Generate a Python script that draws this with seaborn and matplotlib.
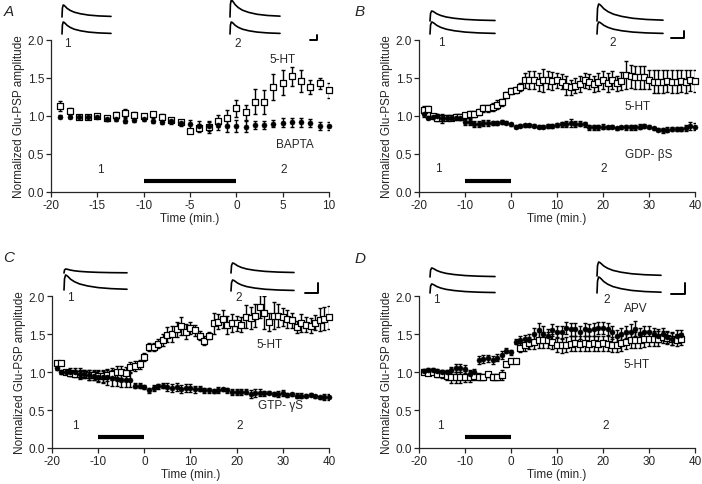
"""
Four-panel time course of normalized Glu-PSP amplitude (5-HT vs. blockers).
"""

import matplotlib

matplotlib.use("Agg")
import matplotlib.pyplot as plt
import seaborn as sns

sns.set_style("ticks")
plt.rcParams["font.family"] = ["Liberation Sans", "DejaVu Sans"]
plt.rcParams["font.size"] = 8.5
plt.rcParams["axes.unicode_minus"] = False

FIG_W, FIG_H = 702, 485

# ---- panel A data (one point per minute) ----
a_time = list(range(-19, 11))
a_sht_mean = [1.13, 1.06, 0.99, 0.99, 1.00, 0.97, 1.01, 1.04, 1.01, 1.00,
              1.02, 0.99, 0.95, 0.92, 0.80, 0.84, 0.85, 0.93, 0.98, 1.10,
              1.05, 1.19, 1.18, 1.38, 1.44, 1.52, 1.46, 1.38, 1.43, 1.34]
a_sht_sem = [0.07, 0.04, 0.02, 0.02, 0.02, 0.02, 0.04, 0.05, 0.04, 0.03,
             0.03, 0.03, 0.03, 0.03, 0.03, 0.05, 0.07, 0.08, 0.10, 0.11,
             0.10, 0.16, 0.16, 0.17, 0.17, 0.13, 0.14, 0.09, 0.07, 0.10]
a_bapta_mean = [0.99, 0.99, 0.99, 0.99, 0.99, 0.96, 0.96, 0.94, 0.95, 0.96,
                0.94, 0.92, 0.93, 0.91, 0.89, 0.87, 0.87, 0.88, 0.87, 0.87,
                0.86, 0.88, 0.88, 0.90, 0.91, 0.92, 0.92, 0.91, 0.87, 0.87]
a_bapta_sem = [0.02, 0.02, 0.02, 0.02, 0.02, 0.02, 0.03, 0.03, 0.03, 0.03,
               0.03, 0.03, 0.04, 0.04, 0.06, 0.06, 0.07, 0.07, 0.08, 0.08,
               0.07, 0.05, 0.05, 0.05, 0.06, 0.06, 0.06, 0.05, 0.05, 0.05]

# ---- panel B data ----
b_time = list(range(-19, 41))
b_sht_mean = [1.08, 1.09, 1.00, 0.98, 0.97, 0.98, 0.98, 0.99, 0.99, 1.01,
              1.02, 1.03, 1.05, 1.10, 1.10, 1.12, 1.15, 1.18, 1.28, 1.33,
              1.34, 1.38, 1.47, 1.47, 1.47, 1.45, 1.47, 1.47, 1.46, 1.47,
              1.45, 1.40, 1.38, 1.40, 1.42, 1.47, 1.45, 1.42, 1.45, 1.47,
              1.44, 1.47, 1.43, 1.46, 1.54, 1.52, 1.51, 1.51, 1.51, 1.48,
              1.45, 1.45, 1.45, 1.46, 1.45, 1.45, 1.46, 1.45, 1.47, 1.46]
b_sht_sem = [0.05, 0.04, 0.03, 0.04, 0.06, 0.03, 0.03, 0.03, 0.03, 0.03,
             0.04, 0.04, 0.04, 0.05, 0.05, 0.05, 0.06, 0.05, 0.04, 0.04,
             0.04, 0.05, 0.10, 0.12, 0.12, 0.12, 0.15, 0.12, 0.12, 0.10,
             0.10, 0.12, 0.10, 0.10, 0.10, 0.10, 0.10, 0.10, 0.12, 0.12,
             0.12, 0.12, 0.10, 0.12, 0.18, 0.15, 0.15, 0.15, 0.15, 0.12,
             0.15, 0.15, 0.15, 0.15, 0.15, 0.15, 0.15, 0.15, 0.14, 0.14]
b_gdp_mean = [1.02, 0.98, 0.99, 1.00, 0.97, 0.98, 0.98, 0.98, 0.97, 0.92,
              0.92, 0.89, 0.90, 0.91, 0.91, 0.91, 0.91, 0.92, 0.91, 0.89,
              0.86, 0.87, 0.88, 0.88, 0.87, 0.86, 0.86, 0.87, 0.87, 0.88,
              0.89, 0.90, 0.91, 0.90, 0.90, 0.89, 0.85, 0.85, 0.85, 0.86,
              0.85, 0.86, 0.84, 0.85, 0.85, 0.85, 0.85, 0.86, 0.87, 0.86,
              0.84, 0.82, 0.81, 0.82, 0.83, 0.83, 0.83, 0.84, 0.87, 0.86]
b_gdp_sem = [0.03, 0.02, 0.02, 0.03, 0.03, 0.02, 0.02, 0.02, 0.02, 0.04,
             0.04, 0.04, 0.04, 0.04, 0.04, 0.03, 0.03, 0.03, 0.02, 0.02,
             0.02, 0.02, 0.02, 0.02, 0.02, 0.02, 0.02, 0.03, 0.03, 0.03,
             0.03, 0.04, 0.05, 0.04, 0.03, 0.03, 0.03, 0.03, 0.03, 0.03,
             0.02, 0.02, 0.02, 0.02, 0.03, 0.03, 0.03, 0.03, 0.03, 0.02,
             0.02, 0.02, 0.03, 0.03, 0.03, 0.03, 0.03, 0.04, 0.05, 0.05]

# ---- panel C data ----
c_time = list(range(-19, 41))
c_sht_mean = [1.12, 1.12, 1.00, 0.99, 0.98, 0.97, 0.97, 0.96, 0.96, 0.95,
              0.95, 0.96, 0.97, 1.00, 1.00, 0.99, 1.06, 1.08, 1.10, 1.20,
              1.33, 1.33, 1.37, 1.42, 1.49, 1.50, 1.56, 1.61, 1.53, 1.58,
              1.55, 1.48, 1.41, 1.48, 1.64, 1.66, 1.70, 1.62, 1.64, 1.64,
              1.62, 1.73, 1.71, 1.74, 1.86, 1.78, 1.66, 1.74, 1.74, 1.72,
              1.70, 1.68, 1.59, 1.64, 1.62, 1.61, 1.65, 1.69, 1.70, 1.72]
c_sht_sem = [0.03, 0.03, 0.03, 0.04, 0.05, 0.05, 0.05, 0.06, 0.06, 0.07,
             0.08, 0.08, 0.08, 0.08, 0.08, 0.08, 0.07, 0.07, 0.06, 0.05,
             0.05, 0.05, 0.06, 0.08, 0.10, 0.10, 0.10, 0.12, 0.10, 0.08,
             0.07, 0.06, 0.06, 0.04, 0.14, 0.10, 0.12, 0.12, 0.12, 0.10,
             0.10, 0.15, 0.15, 0.15, 0.15, 0.22, 0.12, 0.18, 0.15, 0.12,
             0.12, 0.10, 0.08, 0.12, 0.10, 0.10, 0.10, 0.15, 0.15, 0.15]
c_gtp_mean = [1.05, 1.00, 1.00, 1.00, 1.00, 0.98, 0.97, 0.96, 0.95, 0.94,
              0.93, 0.93, 0.92, 0.91, 0.90, 0.90, 0.90, 0.82, 0.82, 0.80,
              0.76, 0.79, 0.81, 0.82, 0.80, 0.79, 0.80, 0.78, 0.79, 0.79,
              0.77, 0.78, 0.76, 0.76, 0.75, 0.76, 0.77, 0.76, 0.74, 0.74,
              0.74, 0.74, 0.71, 0.72, 0.73, 0.72, 0.73, 0.71, 0.71, 0.72,
              0.70, 0.71, 0.69, 0.69, 0.69, 0.70, 0.68, 0.67, 0.67, 0.67]
c_gtp_sem = [0.03, 0.02, 0.02, 0.05, 0.05, 0.07, 0.05, 0.06, 0.06, 0.07,
             0.08, 0.10, 0.10, 0.09, 0.10, 0.10, 0.10, 0.03, 0.03, 0.03,
             0.03, 0.04, 0.03, 0.03, 0.05, 0.05, 0.05, 0.05, 0.05, 0.05,
             0.04, 0.03, 0.03, 0.03, 0.03, 0.04, 0.02, 0.03, 0.04, 0.04,
             0.04, 0.03, 0.05, 0.05, 0.05, 0.03, 0.02, 0.03, 0.04, 0.04,
             0.03, 0.02, 0.03, 0.03, 0.02, 0.02, 0.02, 0.02, 0.04, 0.04]

# ---- panel D data ----
d_time = list(range(-19, 38))
d_apv_mean = [1.01, 1.02, 1.02, 1.01, 1.00, 1.00, 1.02, 1.05, 1.05, 1.04,
              0.98, 1.00, 1.16, 1.17, 1.18, 1.16, 1.19, 1.22, 1.28, 1.26,
              1.40, 1.42, 1.43, 1.42, 1.50, 1.55, 1.50, 1.48, 1.55, 1.53,
              1.52, 1.58, 1.56, 1.56, 1.52, 1.56, 1.55, 1.56, 1.58, 1.58,
              1.57, 1.52, 1.47, 1.50, 1.53, 1.53, 1.57, 1.50, 1.52, 1.53,
              1.50, 1.48, 1.50, 1.46, 1.44, 1.47, 1.49]
d_apv_sem = [0.03, 0.03, 0.03, 0.03, 0.03, 0.03, 0.04, 0.05, 0.05, 0.05,
             0.04, 0.04, 0.05, 0.05, 0.05, 0.05, 0.05, 0.05, 0.03, 0.03,
             0.03, 0.06, 0.06, 0.08, 0.08, 0.10, 0.10, 0.08, 0.08, 0.08,
             0.08, 0.08, 0.08, 0.08, 0.08, 0.08, 0.08, 0.08, 0.08, 0.08,
             0.08, 0.08, 0.08, 0.08, 0.08, 0.10, 0.10, 0.08, 0.08, 0.08,
             0.08, 0.08, 0.08, 0.08, 0.08, 0.08, 0.06]
d_sht_mean = [1.00, 0.99, 1.00, 0.97, 0.97, 0.95, 0.93, 0.93, 0.93, 0.94,
              0.94, 0.95, 0.94, 0.94, 0.97, 0.94, 0.94, 0.96, 1.10, 1.15,
              1.15, 1.32, 1.35, 1.38, 1.40, 1.42, 1.42, 1.42, 1.40, 1.36,
              1.35, 1.36, 1.37, 1.38, 1.37, 1.38, 1.37, 1.38, 1.37, 1.38,
              1.37, 1.36, 1.36, 1.38, 1.40, 1.42, 1.42, 1.42, 1.43, 1.44,
              1.44, 1.44, 1.46, 1.45, 1.43, 1.42, 1.43]
d_sht_sem = [0.03, 0.03, 0.03, 0.04, 0.05, 0.06, 0.07, 0.07, 0.07, 0.07,
             0.07, 0.06, 0.05, 0.04, 0.03, 0.04, 0.04, 0.06, 0.03, 0.02,
             0.02, 0.06, 0.08, 0.08, 0.10, 0.10, 0.10, 0.10, 0.10, 0.10,
             0.10, 0.10, 0.10, 0.10, 0.10, 0.10, 0.10, 0.10, 0.10, 0.10,
             0.10, 0.10, 0.10, 0.10, 0.10, 0.10, 0.10, 0.10, 0.10, 0.10,
             0.10, 0.10, 0.08, 0.08, 0.08, 0.08, 0.08]

# 5-HT application period (min) and the y level of the bar
drug_start, drug_end = -10, 0
drug_bar_level = 0.14

y_ticks = [0.0, 0.5, 1.0, 1.5, 2.0]
a_x_ticks = [-20, -15, -10, -5, 0, 5, 10]
bcd_x_ticks = [-20, -10, 0, 10, 20, 30, 40]

# example EPSP waveform shape
trace_t = [0, 0.2, 0.6, 1.0, 1.6, 2.5, 4, 6, 9, 13, 18, 24]
trace_v = [0, 0.75, 1.0, 0.97, 0.88, 0.72, 0.55, 0.40, 0.27, 0.16, 0.09, 0.05]


def px_rect(x0, x1, y_base, y_top):
    """Pixel box (top-left origin) -> figure fraction rect."""
    return [x0 / FIG_W, 1 - y_base / FIG_H, (x1 - x0) / FIG_W, (y_base - y_top) / FIG_H]


def draw_trace(fig, box):
    ax = fig.add_axes(px_rect(*box))
    ax.plot(trace_t, trace_v, color="black", lw=1.2, clip_on=False)
    ax.set_xlim(0, trace_t[-1])
    ax.set_ylim(0, 1)
    ax.axis("off")


def draw_scale_bar(fig, box):
    ax = fig.add_axes(px_rect(*box))
    ax.plot([0, 1, 1], [0, 0, 1], color="black", lw=1.4, clip_on=False)
    ax.set_xlim(0, 1)
    ax.set_ylim(0, 1)
    ax.axis("off")


def draw_series(ax, time, mean, sem, filled):
    ax.errorbar(time, mean, yerr=sem, fmt="none", ecolor="black",
                elinewidth=1.0, capsize=1.6, capthick=1.0, zorder=2)
    # filled symbols sit on top of the open squares, as in the original
    sns.scatterplot(
        x=time, y=mean, ax=ax, marker="o" if filled else "s",
        s=13 if filled else 16,
        color="black" if filled else "white",
        edgecolor="black", linewidth=0.4 if filled else 0.9,
        zorder=4 if filled else 3, legend=False, clip_on=False,
    )


def style_axes(ax, xlim, xticks):
    ax.set_xlim(*xlim)
    ax.set_ylim(0, 2.0)
    ax.set_xticks(xticks)
    ax.set_yticks(y_ticks)
    ax.set_yticklabels([f"{v:.1f}" for v in y_ticks])
    ax.set_xlabel("Time (min.)", labelpad=1)
    ax.set_ylabel("Normalized Glu-PSP amplitude", labelpad=2)
    sns.despine(ax=ax)
    ax.tick_params(direction="out", length=3.5, width=0.9, labelsize=8.5, pad=1.5)
    for side in ("left", "bottom"):
        ax.spines[side].set_linewidth(0.9)
    ax.plot([drug_start, drug_end], [drug_bar_level, drug_bar_level],
            color="black", lw=3, solid_capstyle="butt")


fig = plt.figure(figsize=(FIG_W / 100, FIG_H / 100), dpi=100)

ax_a = fig.add_axes(px_rect(51, 329, 193, 41))
ax_b = fig.add_axes(px_rect(419, 695, 193, 41))
ax_c = fig.add_axes(px_rect(52, 329, 449, 297))
ax_d = fig.add_axes(px_rect(419, 695, 449, 297))

# A
draw_series(ax_a, a_time, a_sht_mean, a_sht_sem, filled=False)
draw_series(ax_a, a_time, a_bapta_mean, a_bapta_sem, filled=True)
style_axes(ax_a, (-20, 10), a_x_ticks)
ax_a.text(5.0, 1.75, "5-HT", ha="center", va="center")
ax_a.text(6.3, 0.63, "BAPTA", ha="center", va="center")
ax_a.text(-14.7, 0.30, "1", ha="center", va="center")
ax_a.text(5.1, 0.30, "2", ha="center", va="center")

# B
draw_series(ax_b, b_time, b_sht_mean, b_sht_sem, filled=False)
draw_series(ax_b, b_time, b_gdp_mean, b_gdp_sem, filled=True)
style_axes(ax_b, (-20, 40), bcd_x_ticks)
ax_b.text(27.5, 1.13, "5-HT", ha="center", va="center")
ax_b.text(30.0, 0.50, "GDP- βS", ha="center", va="center")
ax_b.text(-15.7, 0.31, "1", ha="center", va="center")
ax_b.text(20.1, 0.31, "2", ha="center", va="center")

# C
draw_series(ax_c, c_time, c_sht_mean, c_sht_sem, filled=False)
draw_series(ax_c, c_time, c_gtp_mean, c_gtp_sem, filled=True)
style_axes(ax_c, (-20, 40), bcd_x_ticks)
ax_c.text(27.2, 1.37, "5-HT", ha="center", va="center")
ax_c.text(29.6, 0.57, "GTP- γS", ha="center", va="center")
ax_c.text(-14.9, 0.30, "1", ha="center", va="center")
ax_c.text(20.6, 0.30, "2", ha="center", va="center")

# D
draw_series(ax_d, d_time, d_sht_mean, d_sht_sem, filled=False)
draw_series(ax_d, d_time, d_apv_mean, d_apv_sem, filled=True)
style_axes(ax_d, (-20, 40), bcd_x_ticks)
ax_d.text(27.2, 1.84, "APV", ha="center", va="center")
ax_d.text(27.3, 1.11, "5-HT", ha="center", va="center")
ax_d.text(-15.3, 0.30, "1", ha="center", va="center")
ax_d.text(20.5, 0.30, "2", ha="center", va="center")

# example traces above each panel: (x0, x1, baseline y, peak y) in pixels
trace_boxes = [
    (62, 111, 18, 6), (62, 111, 35, 23), (230, 280, 18, 1), (230, 280, 35, 23),
    (430, 495, 22, 12), (430, 495, 35, 23), (597, 663, 22, 5), (597, 663, 35, 23),
    (64, 127, 274, 270), (64, 127, 291, 276), (231, 294, 274, 264), (231, 294, 292, 281),
    (430, 495, 278, 269), (430, 495, 294, 285), (597, 661, 277, 263), (597, 661, 294, 278),
]
for box in trace_boxes:
    draw_trace(fig, box)

for box in [(310, 317, 41, 36), (671, 684, 39, 32), (305, 318, 294, 284), (671, 685, 295, 284)]:
    draw_scale_bar(fig, box)

trace_labels = [("1", 67, 44), ("2", 238, 44), ("1", 441, 43), ("2", 613, 43),
                ("1", 70, 298), ("2", 239, 298), ("1", 436, 300), ("2", 607, 300)]
for txt, x, y in trace_labels:
    fig.text(x / FIG_W, 1 - y / FIG_H, txt, ha="center", va="center", fontsize=8.5)

for letter, x, y in [("A", 9, 12), ("B", 360, 12), ("C", 9, 258), ("D", 360, 259)]:
    fig.text(x / FIG_W, 1 - y / FIG_H, letter, ha="center", va="center",
             fontsize=11, style="italic")

fig.savefig("out.png", dpi=100)
